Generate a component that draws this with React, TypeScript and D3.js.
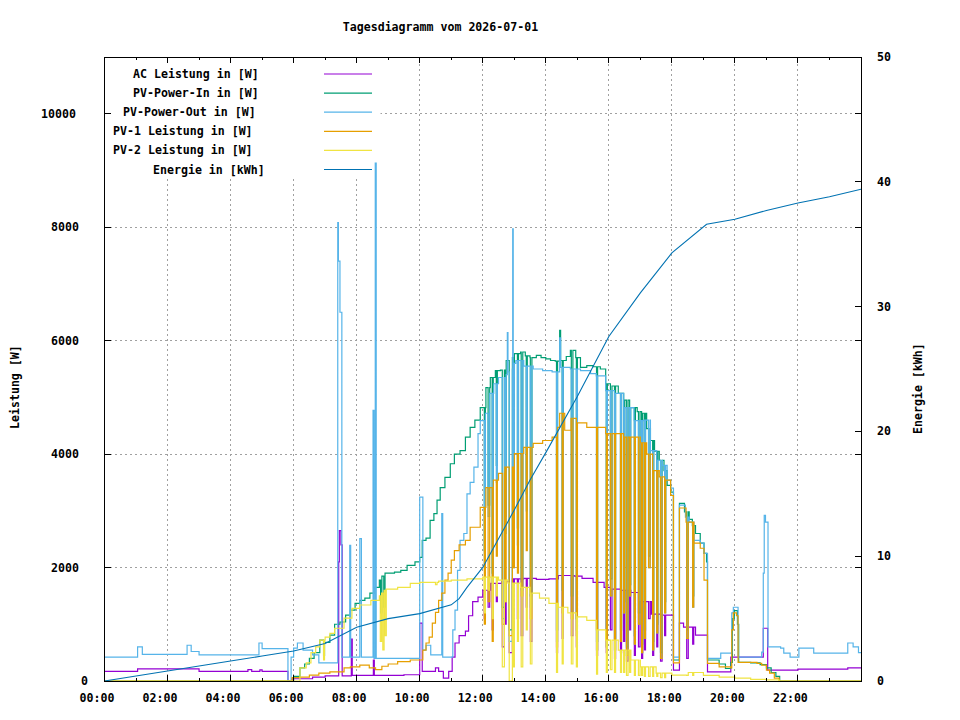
import React from 'react';
import * as d3 from 'd3';

type Pt = [number, number];

// ---------------- DATA ----------------
const TITLE = 'Tagesdiagramm vom 2026-07-01';
const Y_LABEL = 'Leistung [W]';
const Y2_LABEL = 'Energie [kWh]';
const Y_TICKS = [0, 2000, 4000, 6000, 8000, 10000];
const Y2_TICKS = [0, 10, 20, 30, 40, 50];
const X_TICK_HOURS = [0, 2, 4, 6, 8, 10, 12, 14, 16, 18, 20, 22];
const X_TICK_LABELS = ['00:00', '02:00', '04:00', '06:00', '08:00', '10:00', '12:00', '14:00', '16:00', '18:00', '20:00', '22:00'];

const LEGEND_LABELS = ['AC Leistung in [W]', 'PV-Power-In in [W]', 'PV-Power-Out in [W]', 'PV-1 Leistung in [W]', 'PV-2 Leistung in [W]', 'Energie in [kWh]'];
const COLORS = ['#9400d3', '#009e73', '#56b4e9', '#e69f00', '#f0e442', '#0072b2'];

// base readings: [hour, watt] (step after)
const AC_BASE: Pt[] = [[0,170],[1.05,215],[3.0,170],[4.55,200],[4.67,170],[4.93,195],[5.0,170],[5.82,0],[5.95,40],[6.6,70],[7.0,90],[7.43,2100],[7.45,2650],[7.5,2400],[7.54,90],[7.83,740],[7.86,100],[8.53,370],[8.56,100],[9.5,110],[10.0,1020],[10.08,170],[10.5,230],[10.6,170],[10.75,50],[10.92,170],[11.03,420],[11.12,670],[11.25,800],[11.45,880],[11.55,1150],[11.68,1400],[11.85,1480],[12.0,1600],[12.25,1720],[12.6,1750],[12.9,1800],[13.3,1810],[13.7,1790],[14.1,1800],[14.4,1860],[14.9,1850],[15.15,1810],[15.5,1740],[15.85,1650],[16.1,1620],[16.4,1600],[16.7,1560],[16.95,1400],[17.35,1180],[17.7,1160],[18.05,190],[18.24,1020],[18.37,950],[18.75,810],[19.13,160],[19.87,420],[20.9,930],[21.04,190],[22.0,210],[23.58,230],[24,230]];

const PV_IN_BASE: Pt[] = [[0,0],[5.9,0],[6.0,80],[6.2,230],[6.35,300],[6.5,400],[6.65,500],[6.83,720],[6.95,450],[6.98,680],[7.15,810],[7.3,1000],[7.47,1040],[7.65,1160],[7.8,1250],[7.95,1370],[8.1,1420],[8.26,1460],[8.42,1550],[8.58,1650],[8.72,1780],[8.76,1200],[8.8,1850],[8.86,1300],[8.9,1900],[9.2,1920],[9.4,1950],[9.6,2040],[9.85,2100],[10.0,2180],[10.08,2480],[10.2,2520],[10.33,2830],[10.45,2950],[10.55,3190],[10.65,3410],[10.8,3590],[10.97,3830],[11.1,4000],[11.28,4060],[11.45,4300],[11.6,4470],[11.75,4600],[11.92,4820],[12.1,5170],[12.24,5350],[12.4,5470],[12.56,5480],[12.72,5650],[12.87,5700],[13.0,5770],[13.2,5800],[13.35,5730],[13.5,5700],[13.7,5740],[13.85,5700],[14.0,5680],[14.15,5650],[14.3,5640],[14.44,6180],[14.47,5650],[14.65,5720],[14.78,5830],[14.95,5700],[15.1,5530],[15.3,5560],[15.5,5540],[15.73,5500],[15.9,5240],[16.1,5200],[16.3,5070],[16.5,4950],[16.69,4820],[16.9,4750],[17.05,4720],[17.2,4450],[17.32,4240],[17.45,4050],[17.6,3890],[17.75,3710],[17.85,3450],[17.96,3330],[18.05,370],[18.24,3130],[18.4,2980],[18.55,2850],[18.65,2740],[18.75,2600],[18.9,2430],[19.02,2250],[19.1,2100],[19.13,370],[19.5,300],[19.7,220],[19.87,330],[19.92,1100],[19.98,1240],[20.08,1000],[20.12,330],[20.5,320],[20.8,290],[21.0,230],[21.15,150],[21.3,80],[21.42,0],[24,0]];

const PV_OUT_BASE: Pt[] = [[0,420],[1.05,600],[1.2,470],[2.5,470],[2.62,630],[2.75,520],[3.0,460],[4.85,460],[4.9,670],[5.0,570],[5.82,0],[5.92,420],[6.0,580],[6.12,670],[6.3,545],[6.6,460],[6.8,320],[7.4,8080],[7.42,7400],[7.47,6500],[7.53,420],[7.78,2390],[7.81,420],[8.1,2510],[8.15,420],[8.52,4770],[8.55,400],[8.59,9130],[8.62,400],[10.0,3240],[10.1,545],[10.2,630],[10.35,460],[10.7,2950],[10.73,420],[11.0,420],[11.05,900],[11.12,1250],[11.2,1950],[11.28,2480],[11.4,2600],[11.5,3300],[11.6,3500],[11.72,3770],[11.85,4360],[11.92,4590],[12.05,4720],[12.2,5070],[12.35,5240],[12.5,5350],[12.72,5400],[12.78,6140],[12.8,5450],[12.87,5500],[12.95,7970],[12.967,5600],[13.05,5650],[13.3,5550],[13.6,5500],[13.9,5470],[14.2,5450],[14.44,6050],[14.47,5530],[14.78,5500],[15.1,5470],[15.42,5420],[15.6,5380],[15.9,5120],[16.2,5070],[16.5,4820],[16.8,4590],[17.1,4600],[17.32,4060],[17.55,3890],[17.7,3800],[17.85,3540],[17.96,3400],[18.05,420],[18.24,3100],[18.43,2890],[18.55,2800],[18.7,2480],[18.9,2430],[19.02,2250],[19.13,400],[19.5,400],[19.55,490],[19.86,490],[19.9,1200],[19.95,1300],[20.1,420],[20.75,420],[20.85,510],[20.9,1900],[20.93,2920],[20.97,2800],[21.05,600],[21.45,580],[21.55,490],[21.75,420],[22.03,580],[22.5,490],[23.58,670],[23.75,600],[23.92,500],[24,500]];

const PV1_BASE: Pt[] = [[0,0],[5.85,0],[5.95,60],[6.2,70],[6.5,105],[6.8,140],[7.15,160],[7.6,230],[7.8,250],[8.1,280],[8.4,230],[8.6,200],[8.8,260],[9.0,300],[9.3,340],[9.7,370],[10.02,370],[10.1,545],[10.2,670],[10.3,775],[10.4,1020],[10.5,1210],[10.6,1420],[10.7,1550],[10.8,1780],[10.9,1900],[11.0,2130],[11.1,2300],[11.25,2400],[11.45,2480],[11.6,2710],[11.92,3060],[12.1,3410],[12.3,3540],[12.5,3660],[12.7,3770],[13.0,4010],[13.3,4120],[13.6,4190],[13.9,4240],[14.2,4300],[14.35,4470],[14.44,4720],[14.6,4420],[14.8,4630],[15.0,4550],[15.3,4470],[15.6,4470],[15.9,4360],[16.2,4360],[16.5,4300],[16.8,4300],[17.0,4200],[17.2,4000],[17.4,3710],[17.6,3600],[17.8,3540],[17.96,3270],[18.05,320],[18.24,3050],[18.45,2800],[18.7,2430],[18.9,2340],[19.02,1780],[19.13,310],[19.5,250],[19.87,230],[19.9,900],[19.95,1200],[20.05,1150],[20.1,330],[20.7,310],[20.85,280],[21.0,190],[21.1,140],[21.25,50],[21.4,0],[24,0]];

const PV2_BASE: Pt[] = [[0,0],[5.92,0],[6.2,230],[6.4,320],[6.55,500],[6.7,600],[6.83,720],[6.95,370],[6.98,720],[7.0,775],[7.15,840],[7.3,930],[7.6,1110],[7.85,1280],[8.1,1340],[8.45,1420],[8.72,1500],[8.75,700],[8.79,1550],[8.83,550],[8.87,1600],[8.9,800],[8.94,1620],[9.3,1650],[9.7,1720],[10.0,1740],[10.5,1700],[10.55,1740],[10.6,1760],[11.0,1780],[11.5,1800],[12.0,1830],[12.5,1780],[12.8,1725],[13.2,1650],[13.5,1550],[13.8,1460],[14.1,1370],[14.4,1300],[14.7,1200],[15.0,1130],[15.3,1070],[15.6,900],[15.9,720],[16.3,545],[16.7,370],[17.0,250],[17.5,140],[18.0,105],[18.5,150],[19.0,100],[19.5,70],[20.0,50],[20.5,30],[21.0,20],[21.4,0],[24,0]];

// short dropouts (cloud / clipping events) shared by the power series
const DROP_H = [12.05,12.17,12.30,12.43,12.62,12.71,12.84,12.97,13.10,13.22,13.38,13.51,14.34,14.52,14.81,14.97,15.61,15.92,16.05,16.18,16.37,16.47,16.56,16.66,16.81,16.94,17.04,17.13,17.26,17.39,17.52,17.64,17.77,18.47,18.66];
const DROP_MIN = [2,3,2,2,4,2,6,2,2,3,2,3,2,2,3,2,2,2,3,2,2,2,3,2,2,3,2,2,3,2,2,3,2,3,2];
const DROP_PVIN = [2300,3100,1900,3800,1300,2900,900,2300,2700,1800,3300,1500,900,1600,1500,1100,700,800,1800,750,900,1400,600,1700,800,1200,650,900,2200,700,1000,500,1400,900,1500];
const DROP_PVOUT = [2000,2900,1700,3500,1100,2600,700,2000,2400,1600,3000,1300,700,1300,1200,900,550,600,1500,550,700,1200,450,1500,650,1000,500,750,2000,550,850,400,1200,750,1300];
const DROP_PV1 = [1000,1400,700,2200,1000,1400,800,2000,1900,1500,2300,1100,600,1200,1100,800,550,600,1500,550,700,1200,450,1500,650,1000,500,750,2000,550,850,400,1200,750,1300];
const DROP_PV2 = [1200,1600,1100,1500,250,1400,0,250,700,250,900,300,150,300,300,250,120,150,200,150,150,150,100,150,100,100,100,80,80,80,80,60,60,100,100];
const DROP_AC = [1100,1300,900,1400,600,1000,500,900,1100,800,1300,700,500,750,800,600,450,500,900,400,500,700,350,900,450,600,400,550,1100,450,600,350,800,400,650];

const ENERGY_H = [0,1,2,3,4,5,6,7,8,9,10,11,11.25,11.5,12,13,13.5,14,15,16,17,18,19.1,20,21,22,23,24];
const ENERGY_KWH = [0,0.4,0.8,1.2,1.6,2.0,2.4,3.0,4.3,5.0,5.4,6.1,6.6,7.5,9.1,13.7,16.1,18.3,22.8,27.6,31.1,34.3,36.6,37.0,37.7,38.3,38.8,39.4];

// ---------------- LAYOUT ----------------
const W = 960, H = 720;
const L = 104.5, R = 861, T = 57, B = 681;
const FONT = "'DejaVu Sans Mono', 'Liberation Mono', monospace";
const FS = 11.6;
const CH = 10; // gnuplot's assumed char width for justification
const LW = 1.2;

function withDrops(base: Pt[], drops: number[]): Pt[] {
  const valueAt = (t: number) => {
    let v = base[0][1];
    for (const p of base) { if (p[0] <= t) v = p[1]; else break; }
    return v;
  };
  let pts = base.slice();
  DROP_H.forEach((t, i) => {
    const end = t + DROP_MIN[i] / 60;
    const resume = valueAt(end);
    pts = pts.filter(p => p[0] < t || p[0] > end);
    pts.push([t, drops[i]], [end, resume]);
  });
  return pts.sort((a, b) => a[0] - b[0]);
}

export default function App() {
  const x = d3.scaleLinear().domain([0, 24]).range([L, R]);
  const yW = d3.scaleLinear().domain([0, 11000]).range([B, T]);
  const yE = d3.scaleLinear().domain([0, 50]).range([B, T]);

  const step = d3.line<Pt>().x(d => x(d[0])).y(d => yW(d[1])).curve(d3.curveStepAfter);
  const eLine = d3.line<number>().x((_, i) => x(ENERGY_H[i])).y(d => yE(d));

  const series: Pt[][] = [
    withDrops(AC_BASE, DROP_AC),
    withDrops(PV_IN_BASE, DROP_PVIN),
    withDrops(PV_OUT_BASE, DROP_PVOUT),
    withDrops(PV1_BASE, DROP_PV1),
    withDrops(PV2_BASE, DROP_PV2),
  ];

  const gridStyle = { stroke: '#a0a0a0', strokeWidth: 1, strokeDasharray: '2,3', fill: 'none' } as const;
  const hours = d3.range(1, 24);
  const txt = { fontFamily: FONT, fontSize: FS, fontWeight: 700, fill: '#000' } as const;

  return (
    <svg width={W} height={H} viewBox={`0 0 ${W} ${H}`} style={{ position: 'absolute', left: 0, top: 0, background: '#fff' }}>
      <rect x={0} y={0} width={W} height={H} fill="#fff" />
      <defs>
        <clipPath id="plot"><rect x={L} y={T} width={R - L} height={B - T} /></clipPath>
      </defs>

      {/* grid */}
      <g shapeRendering="crispEdges">
        {X_TICK_HOURS.filter(h => h > 0).map(h => (
          <line key={'gx' + h} x1={x(h)} x2={x(h)} y1={B} y2={T} style={gridStyle} />
        ))}
        {Y_TICKS.filter(v => v > 0).map(v => (
          <line key={'gy' + v} x1={L} x2={R} y1={yW(v)} y2={yW(v)} style={gridStyle} />
        ))}
      </g>

      {/* key background */}
      <rect x={L + 0.5} y={T + 0.5} width={380 - L} height={178 - T} fill="#fff" />

      {/* data */}
      <g clipPath="url(#plot)" fill="none" strokeLinejoin="miter">
        {series.map((s, i) => (
          <path key={'s' + i} d={step(s) || ''} stroke={COLORS[i]} strokeWidth={LW} />
        ))}
        <path d={eLine(ENERGY_KWH) || ''} stroke={COLORS[5]} strokeWidth={1.1} />
      </g>

      {/* border and ticks */}
      <g stroke="#000" strokeWidth={1} shapeRendering="crispEdges" fill="none">
        <rect x={L} y={T} width={R - L} height={B - T} />
        {hours.map(h => {
          const len = h % 2 === 0 ? 6 : 3;
          return (
            <g key={'tx' + h}>
              <line x1={x(h)} x2={x(h)} y1={B} y2={B - len} />
              <line x1={x(h)} x2={x(h)} y1={T} y2={T + len} />
            </g>
          );
        })}
        {Y_TICKS.map(v => (
          <g key={'ty' + v}>
            <line x1={L} x2={L + 6} y1={yW(v)} y2={yW(v)} />
            <line x1={R} x2={R - 6} y1={yW(v)} y2={yW(v)} />
          </g>
        ))}
        {Y2_TICKS.map(v => (
          <line key={'ty2' + v} x1={R} x2={R - 6} y1={yE(v)} y2={yE(v)} />
        ))}
      </g>

      {/* tick labels */}
      <g style={txt}>
        {Y_TICKS.map(v => {
          const s = String(v);
          return <text key={'ly' + v} x={91 - CH * s.length} y={yW(v) + 4}>{s}</text>;
        })}
        {Y2_TICKS.map(v => (
          <text key={'ly2' + v} x={877} y={yE(v) + 4}>{String(v)}</text>
        ))}
        {X_TICK_HOURS.map((h, i) => (
          <text key={'lx' + h} x={x(h) - (CH / 2) * X_TICK_LABELS[i].length} y={702}>{X_TICK_LABELS[i]}</text>
        ))}
        <text x={(L + R) / 2 - (CH / 2) * TITLE.length} y={31}>{TITLE}</text>
        <text transform={`translate(19, ${(T + B) / 2 + (CH / 2) * Y_LABEL.length}) rotate(-90)`}>{Y_LABEL}</text>
        <text transform={`translate(922, ${(T + B) / 2 + (CH / 2) * Y2_LABEL.length}) rotate(-90)`}>{Y2_LABEL}</text>
      </g>

      {/* key */}
      <g>
        {LEGEND_LABELS.map((lab, i) => {
          const yy = T + 17 + i * 19.1;
          return (
            <g key={'k' + i}>
              <text style={txt} x={313 - CH * lab.length} y={yy + 4}>{lab}</text>
              <line x1={324} x2={372} y1={yy} y2={yy} stroke={COLORS[i]} strokeWidth={LW} />
            </g>
          );
        })}
      </g>
    </svg>
  );
}
